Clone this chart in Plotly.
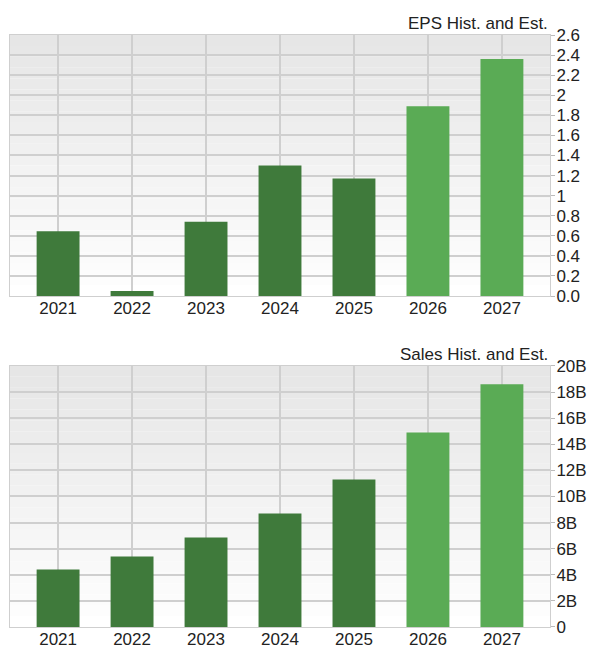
import plotly.graph_objects as go
from plotly.subplots import make_subplots

years = ["2021", "2022", "2023", "2024", "2025", "2026", "2027"]
eps = [0.645, 0.05, 0.74, 1.30, 1.17, 1.89, 2.36]
sales = [4.4e9, 5.4e9, 6.85e9, 8.7e9, 11.3e9, 14.9e9, 18.6e9]
hist_color = "#3f7a3b"
est_color = "#5aab55"
colors = [hist_color] * 5 + [est_color] * 2

eps_ticks = [round(0.2 * i, 1) for i in range(14)]
eps_labels = ["0.0"] + [("%g" % v) for v in eps_ticks[1:]]
sales_ticks = [2e9 * i for i in range(11)]
sales_labels = ["0"] + ["%dB" % (2 * i) for i in range(1, 11)]

fig = make_subplots(rows=2, cols=1, vertical_spacing=0.118)
fig.add_trace(go.Bar(x=years, y=eps, marker_color=colors, marker_line_width=0, width=0.58), row=1, col=1)
fig.add_trace(go.Bar(x=years, y=sales, marker_color=colors, marker_line_width=0, width=0.58), row=2, col=1)

# gradient background bands
n = 24
for ax in ["", "2"]:
    for i in range(n):
        g = int(230 + 25 * i / (n - 1))
        fig.add_shape(type="rect", xref="x%s domain" % ax, yref="y%s domain" % ax,
                      x0=0, x1=1, y0=1 - (i + 1) / n, y1=1 - i / n,
                      fillcolor="rgb(%d,%d,%d)" % (g, g, g), line_width=0, layer="below")

axis_font = dict(family="Liberation Sans", size=17, color="#222")
for r in [1, 2]:
    fig.update_xaxes(row=r, col=1, showgrid=True, gridcolor="#cfcfcf", gridwidth=1.5,
                     tickfont=axis_font, ticks="", range=[-0.65, 6.65], automargin=False,
                     ticklabelstandoff=-3, showline=True, linecolor="#cfcfcf", mirror=True)
fig.update_yaxes(row=1, col=1, side="right", range=[0, 2.6], tickvals=eps_ticks, ticktext=eps_labels)
fig.update_yaxes(row=2, col=1, side="right", range=[0, 20e9], tickvals=sales_ticks, ticktext=sales_labels)
for r in [1, 2]:
    fig.update_yaxes(row=r, col=1, showgrid=True, gridcolor="#cfcfcf", gridwidth=1.5, tickfont=axis_font,
                     zeroline=False, showline=True, linecolor="#cfcfcf", mirror=True,
                     ticks="outside", ticklen=4, tickcolor="#bbb",
                     automargin=False, ticklabelstandoff=-2)

fig.add_annotation(text="EPS Hist. and Est.", xref="x domain", yref="y domain", x=1, y=1.0,
                   xanchor="right", yanchor="bottom", showarrow=False, font=axis_font)
fig.add_annotation(text="Sales Hist. and Est.", xref="x2 domain", yref="y2 domain", x=1, y=1.0,
                   xanchor="right", yanchor="bottom", showarrow=False, font=axis_font)

fig.update_layout(width=579, height=643, margin=dict(l=2, r=37, t=27, b=24, autoexpand=False),
                  plot_bgcolor="white", paper_bgcolor="white", showlegend=False, bargap=0.4)
fig.write_html("out.html")
